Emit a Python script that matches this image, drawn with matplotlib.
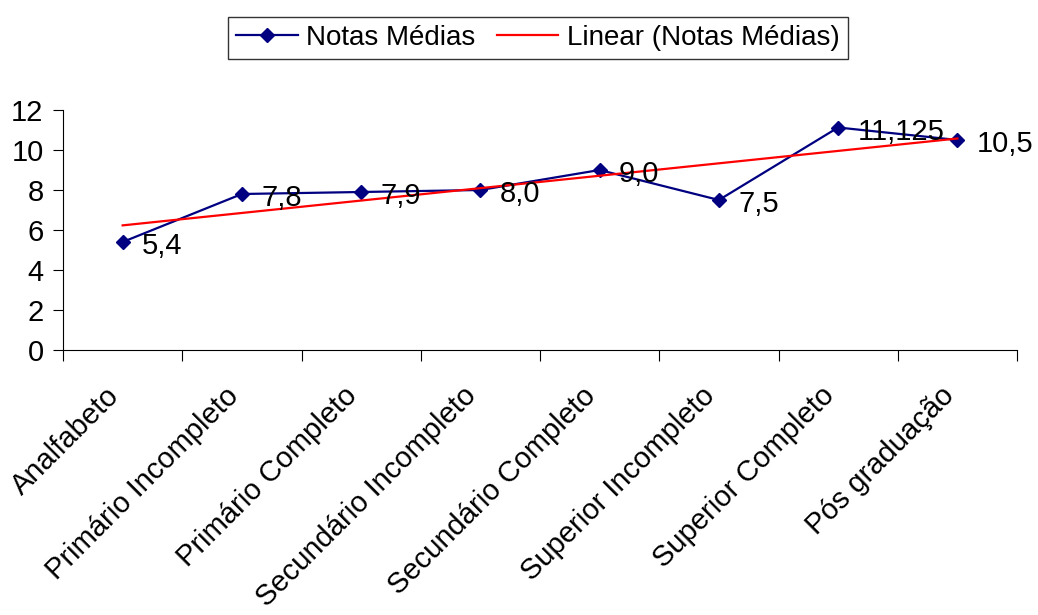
import numpy as np
import matplotlib
matplotlib.use("Agg")
import matplotlib.pyplot as plt
import matplotlib.transforms as mtransforms

plt.rcParams['font.family'] = ['Liberation Sans', 'DejaVu Sans']

categorias = ["Analfabeto", "Primário Incompleto", "Primário Completo",
              "Secundário Incompleto", "Secundário Completo",
              "Superior Incompleto", "Superior Completo", "Pós graduação"]
notas = [5.4, 7.8, 7.9, 8.0, 9.0, 7.5, 11.125, 10.5]
rotulos = ["5,4", "7,8", "7,9", "8,0", "9,0", "7,5", "11,125", "10,5"]

x = np.arange(len(categorias)) + 0.5
# tendência linear pelos mínimos quadrados
coef = np.polyfit(x, notas, 1)
tendencia = np.polyval(coef, x)

fig = plt.figure(figsize=(10.38, 6.15), dpi=100)
ax = fig.add_axes([63 / 1038, 1 - 350 / 615, (1017 - 63) / 1038, 240 / 615])

ax.plot(x, notas, color="#000080", lw=1.6, marker="D", ms=7,
        label="Notas Médias")
ax.plot(x, tendencia, color="red", lw=1.6, label="Linear (Notas Médias)")

for xi, yi, txt in zip(x, notas, rotulos):
    ax.annotate(txt, (xi, yi), xytext=(14, -3), textcoords="offset points",
                fontsize=21, va="center", ha="left")

ax.set_xlim(0, len(categorias))
ax.set_ylim(0, 12)
ax.set_yticks(range(0, 13, 2))
ax.tick_params(axis="y", labelsize=21, length=7, pad=7, direction="out")

ax.set_xticks(np.arange(len(categorias) + 1))
ax.set_xticklabels([])
ax.tick_params(axis="x", which="major", length=8, direction="out")
ax.set_xticks(x, minor=True)
ax.set_xticklabels(categorias, minor=True, rotation=45, ha="right",
                   va="center", rotation_mode="anchor", fontsize=21)
ax.tick_params(axis="x", which="minor", length=0, pad=30)

# desloca os rótulos inclinados um pouco para a esquerda
desloc = mtransforms.ScaledTranslation(-8 / 100, 0, fig.dpi_scale_trans)
for lab in ax.get_xticklabels(minor=True):
    lab.set_transform(lab.get_transform() + desloc)

for lado in ["top", "right"]:
    ax.spines[lado].set_visible(False)

leg = fig.legend(loc="center", bbox_to_anchor=(538 / 1038, 1 - 38 / 615),
                 ncol=2, fontsize=20, frameon=True, fancybox=False,
                 edgecolor="black", handlelength=2.2, columnspacing=0.8,
                 handletextpad=0.3, borderpad=0.3)
leg.get_frame().set_linewidth(1.0)

fig.savefig("out.png", dpi=100)
